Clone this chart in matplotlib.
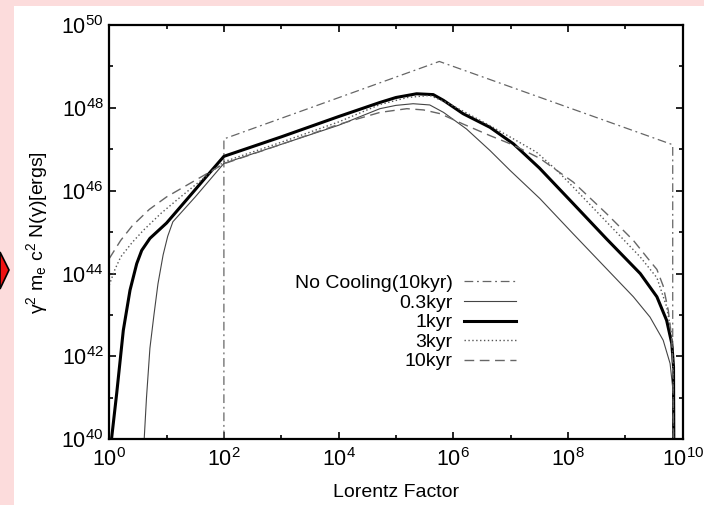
import matplotlib
matplotlib.use('Agg')
import matplotlib.pyplot as plt
from matplotlib.patches import Rectangle, Polygon
import numpy as np

plt.rcParams['font.family'] = ['Liberation Sans', 'DejaVu Sans']
plt.rcParams['mathtext.default'] = 'regular'

# values, as log10(gamma) and log10(energy)
nocool_lg = [2.0, 2.0, 5.756, 9.826, 9.826]
nocool_le = [40.0, 47.25, 49.12, 47.11, 40.0]

kyr03_lg = [0.61, 0.65, 0.71, 0.78, 0.85, 0.94, 1.02, 1.11, 1.5, 2.0, 3.0, 4.0, 4.72, 5.0,
            5.3, 5.59, 5.83, 6.23, 6.64, 6.99, 7.51, 8.09, 8.67, 9.14, 9.43, 9.66, 9.78, 9.83, 9.84]
kyr03_le = [40.0, 41.0, 42.2, 43.0, 43.75, 44.45, 44.9, 45.25, 45.85, 46.66, 47.12, 47.58, 47.98, 48.06,
            48.1, 48.07, 47.89, 47.49, 46.97, 46.49, 45.81, 44.96, 44.12, 43.44, 42.95, 42.39, 41.83, 41.19, 40.0]

kyr1_lg = [0.04, 0.13, 0.246, 0.363, 0.48, 0.567, 0.71, 1.0, 1.41, 1.70, 2.0, 3.0, 4.0, 4.72, 5.0,
           5.36, 5.65, 5.83, 6.17, 6.64, 7.05, 7.5, 8.09, 8.67, 9.26, 9.55, 9.72, 9.81, 9.84, 9.845]
kyr1_le = [40.0, 41.1, 42.63, 43.6, 44.24, 44.56, 44.85, 45.22, 45.88, 46.35, 46.83, 47.3, 47.79, 48.13, 48.25,
           48.34, 48.32, 48.18, 47.86, 47.53, 47.13, 46.55, 45.69, 44.84, 44.0, 43.44, 42.87, 42.31, 41.75, 40.0]

kyr3_lg = [0.0, 0.1, 0.2, 0.4, 0.6, 0.9, 1.2, 1.6, 2.0, 3.0, 4.0, 4.72, 5.2, 5.59, 5.88, 6.2,
           6.64, 7.05, 7.45, 7.8, 8.09, 8.67, 9.26, 9.55, 9.72, 9.81, 9.835, 9.84]
kyr3_le = [43.72, 44.1, 44.4, 44.75, 45.05, 45.45, 45.8, 46.25, 46.7, 47.17, 47.66, 48.08, 48.25, 48.3, 48.13, 47.9,
           47.57, 47.25, 46.93, 46.5, 46.09, 45.25, 44.4, 43.9, 43.2, 42.5, 41.8, 40.0]

kyr10_lg = [0.0, 0.2, 0.4, 0.7, 1.0, 1.5, 2.0, 3.0, 4.0, 4.72, 5.19, 5.48, 5.77, 6.17, 6.64, 7.05,
            7.51, 8.09, 8.67, 9.14, 9.43, 9.55, 9.66, 9.75, 9.81, 9.83, 9.84]
kyr10_le = [44.36, 44.8, 45.15, 45.55, 45.85, 46.25, 46.65, 47.12, 47.6, 47.89, 47.98, 47.95, 47.86, 47.61, 47.33, 47.1,
            46.78, 46.21, 45.45, 44.8, 44.3, 44.1, 43.7, 43.1, 42.4, 41.5, 40.0]

xticks = [1e0, 1e2, 1e4, 1e6, 1e8, 1e10]
xticklabels = ['$10^{0}$', '$10^{2}$', '$10^{4}$', '$10^{6}$', '$10^{8}$', '$10^{10}$']
yticks = [1e40, 1e42, 1e44, 1e46, 1e48, 1e50]
yticklabels = ['$10^{40}$', '$10^{42}$', '$10^{44}$', '$10^{46}$', '$10^{48}$', '$10^{50}$']

fig = plt.figure(figsize=(7.04, 5.05), dpi=100)
fig.patch.set_facecolor('#fcdcdc')
# white slide area and the tip of the red arrow on the left
fig.patches.append(Rectangle((14 / 704, 0), 1, 1 - 6 / 505, transform=fig.transFigure,
                             facecolor='white', edgecolor='none', zorder=-10))
fig.patches.append(Polygon([(0, 1 - 252 / 505), (9 / 704, 1 - 270 / 505), (0, 1 - 289 / 505)],
                           closed=True, transform=fig.transFigure, facecolor='#ee1111',
                           edgecolor='black', lw=1.2, zorder=-5))

ax = fig.add_axes([109.2 / 704, 1 - 439.3 / 505, (682.7 - 109.2) / 704, (439.3 - 25) / 505])
ax.set_facecolor('white')

def p(v):
    return 10.0 ** np.array(v)

ax.plot(p(nocool_lg), p(nocool_le), color='#666666', lw=0.9, dashes=(7, 3, 1.5, 3),
        label='No Cooling(10kyr)')
ax.plot(p(kyr03_lg), p(kyr03_le), color='#444444', lw=0.8, label='0.3kyr')
ax.plot(p(kyr1_lg), p(kyr1_le), color='black', lw=2.2, label='1kyr')
ax.plot(p(kyr3_lg), p(kyr3_le), color='#555555', lw=1.0, dashes=(1, 1.8), label='3kyr')
ax.plot(p(kyr10_lg), p(kyr10_le), color='#666666', lw=1.0, dashes=(7, 4), label='10kyr')

ax.set_xscale('log')
ax.set_yscale('log')
ax.set_xlim(1e0, 1e10)
ax.set_ylim(1e40, 1e50)
ax.set_xticks(xticks)
ax.set_xticklabels(xticklabels)
ax.set_yticks(yticks)
ax.set_yticklabels(yticklabels)
ax.set_xticks([10.0 ** k for k in range(1, 10, 2)], minor=True)
ax.set_yticks([10.0 ** k for k in range(41, 50, 2)], minor=True)
ax.xaxis.set_minor_formatter(matplotlib.ticker.NullFormatter())
ax.yaxis.set_minor_formatter(matplotlib.ticker.NullFormatter())
ax.tick_params(which='both', direction='in', top=True, right=True, labelsize=15.5, width=1.2)
ax.tick_params(which='major', length=5)
ax.tick_params(axis='x', which='major', pad=6)
ax.tick_params(axis='y', which='major', pad=4)
ax.tick_params(which='minor', length=3)
for s in ax.spines.values():
    s.set_linewidth(1.6)

ax.set_xlabel('Lorentz Factor', fontsize=14, labelpad=10)
ax.set_ylabel('γ$^2$ m$_e$ c$^2$ N(γ)[ergs]', fontsize=14, labelpad=8)

ax.legend(loc='center right', bbox_to_anchor=(516 / 704, 1 - 322.5 / 505),
          bbox_transform=fig.transFigure, frameon=False, markerfirst=False,
          fontsize=14, handlelength=2.7, handletextpad=0.55, labelspacing=0.1,
          borderpad=0, borderaxespad=0)

plt.savefig('out.png', dpi=100, facecolor=fig.get_facecolor())
